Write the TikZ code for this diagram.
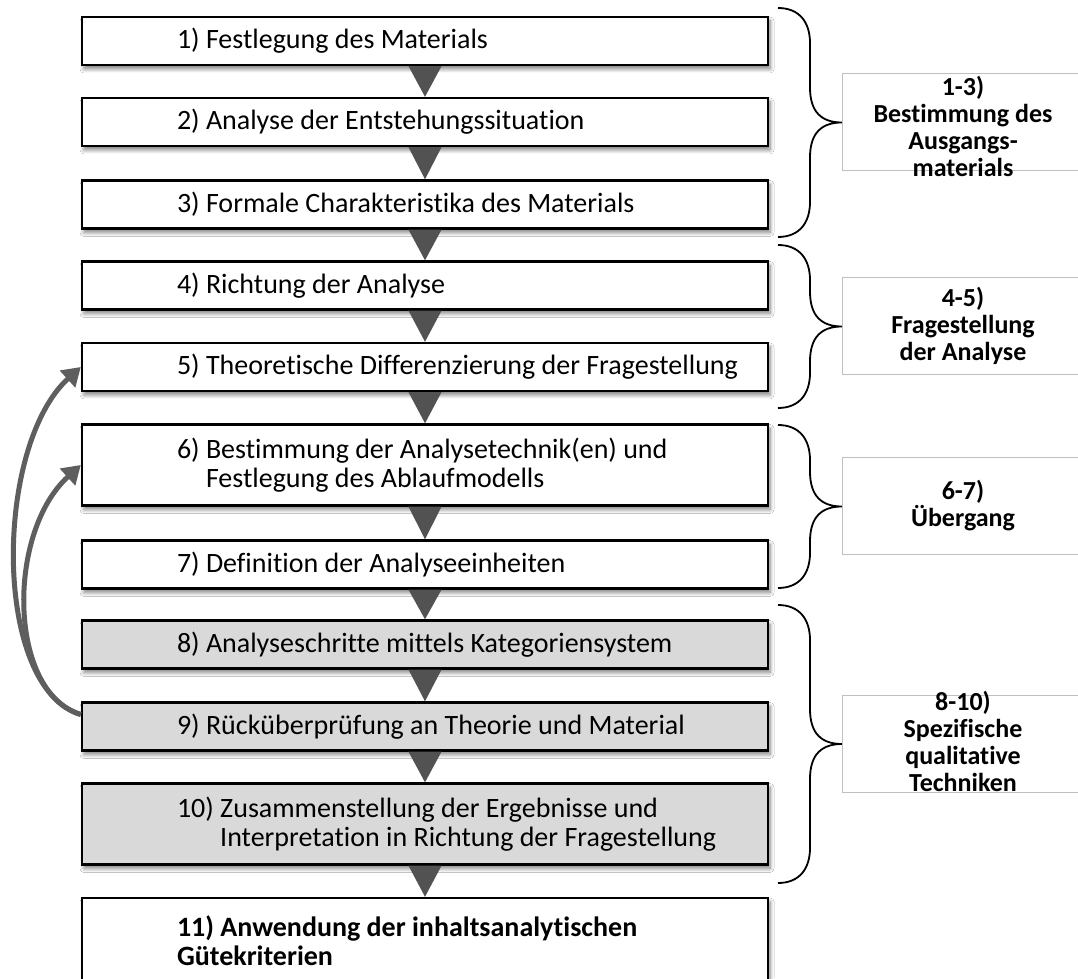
\documentclass[tikz,border=0pt]{standalone}
\usepackage{fontspec}
\setmainfont{Carlito}[Ligatures=NoCommon]
\usetikzlibrary{arrows.meta,shadows.blur,calc}

% curly brace from top y #1 to bottom y #2, tip pointing right
\newcommand\drawbrace[2]{%
  \draw[brc] (778,#1) .. controls (800,#1) and (810,#1-15) .. (810,#1-35)
    -- (810,{(#1+#2)/2+35})
    .. controls (810,{(#1+#2)/2+10}) and (822,{(#1+#2)/2}) .. (842,{(#1+#2)/2})
    .. controls (822,{(#1+#2)/2}) and (810,{(#1+#2)/2-10}) .. (810,{(#1+#2)/2-35})
    -- (810,#2+35)
    .. controls (810,#2+15) and (800,#2) .. (778,#2);}

% downward triangle linking two step boxes
\newcommand\linkdown[2]{%
  \fill[tri] ([xshift=-16.5]#1.south) -- ([xshift=16.5]#1.south) -- (#2.north) -- cycle;}

\begin{document}
\begin{tikzpicture}[x=1pt,y=1pt,
  stepbox/.style={draw=black, line width=2.4pt, fill=white,
    minimum width=686pt, minimum height=48pt, inner sep=0pt,
    blur shadow={shadow xshift=2pt, shadow yshift=-4pt,
      shadow blur radius=4pt, shadow blur steps=8, shadow opacity=50}},
  graybox/.style={stepbox, fill=black!15},
  tall/.style={minimum height=81pt},
  steptext/.style={anchor=west, align=left, inner sep=0pt,
    font=\fontsize{28}{29.5}\selectfont},
  tri/.style={fill=black!68},
  brc/.style={line width=1.8pt, black},
  groupbox/.style={draw=black!25, line width=1pt, fill=white,
    minimum width=250pt, minimum height=97pt, inner sep=0pt},
  grouptext/.style={align=center, inner sep=0pt,
    font=\bfseries\fontsize{26}{27}\selectfont},
  loop/.style={draw=black!63, line width=5pt,
    -{Triangle[length=18pt,width=22pt]}}
]
\fill[white] (0,0) rectangle (1078,978);
\useasboundingbox (0,0) rectangle (1078,978);

% step boxes
\node[stepbox] (b1) at (425,937) {};
\node[stepbox] (b2) at (425,856) {};
\node[stepbox] (b3) at (425,773.5) {};
\node[stepbox] (b4) at (425,692.5) {};
\node[stepbox] (b5) at (425,611) {};
\node[stepbox, tall] (b6) at (425,513) {};
\node[stepbox] (b7) at (425,413.5) {};
\node[graybox] (b8) at (425,333.5) {};
\node[graybox] (b9) at (425,251.5) {};
\node[graybox, tall] (b10) at (425,154) {};
\node[stepbox, minimum height=86pt] (b11) at (425,37) {};

% step labels
\node[steptext] (t1) at ([xshift=96]b1.west) {1) Festlegung des Materials};
\node[steptext] (t2) at ([xshift=96]b2.west) {2) Analyse der Entstehungssituation};
\node[steptext] (t3) at ([xshift=96]b3.west) {3) Formale Charakteristika des Materials};
\node[steptext] (t4) at ([xshift=96]b4.west) {4) Richtung der Analyse};
\node[steptext] (t5) at ([xshift=96]b5.west) {5) Theoretische Differenzierung der Fragestellung};
\node[steptext] (t6) at ([xshift=96]b6.west) {6) Bestimmung der Analysetechnik(en) und\\\phantom{6)\ }Festlegung des Ablaufmodells};
\node[steptext] (t7) at ([xshift=96]b7.west) {7) Definition der Analyseeinheiten};
\node[steptext] (t8) at ([xshift=96]b8.west) {8) Analyseschritte mittels Kategoriensystem};
\node[steptext] (t9) at ([xshift=96]b9.west) {9) Rücküberprüfung an Theorie und Material};
\node[steptext] (t10) at ([xshift=96]b10.west) {10) Zusammenstellung der Ergebnisse und\\\phantom{10)\ }Interpretation in Richtung der Fragestellung};
\node[steptext, font=\bfseries\fontsize{28}{29}\selectfont] (t11) at ([xshift=96]b11.west) {11) Anwendung der inhaltsanalytischen\\Gütekriterien};

% flow triangles
\linkdown{b1}{b2}
\linkdown{b2}{b3}
\linkdown{b3}{b4}
\linkdown{b4}{b5}
\linkdown{b5}{b6}
\linkdown{b6}{b7}
\linkdown{b7}{b8}
\linkdown{b8}{b9}
\linkdown{b9}{b10}
\linkdown{b10}{b11}

% feedback loops from step 9
\coordinate (fb) at ([yshift=12]b9.west);
\draw[loop] (fb) .. controls (-8,290) and (-6,532) .. (b5.west);
\draw[loop] (fb) .. controls (8,285) and (6,445) .. (b6.west);

% braces
\drawbrace{970}{741}
\drawbrace{733}{570}
\drawbrace{553}{390}
\drawbrace{373}{95}

% group boxes
\node[groupbox, anchor=west] (gA) at (842,855.5) {};
\node[groupbox, anchor=west] (gB) at (842,651.5) {};
\node[groupbox, anchor=west] (gC) at (842,471.5) {};
\node[groupbox, anchor=west] (gD) at (842,234) {};
\node[grouptext] (gAt) at (963,852) {1-3)\\Bestimmung des\\Ausgangs-\\materials};
\node[grouptext] (gBt) at (963,652) {4-5)\\Fragestellung\\der Analyse};
\node[grouptext] (gCt) at (963,472) {6-7)\\Übergang};
\node[grouptext] (gDt) at (963,237) {8-10)\\Spezifische\\qualitative\\Techniken};
\end{tikzpicture}
\end{document}
